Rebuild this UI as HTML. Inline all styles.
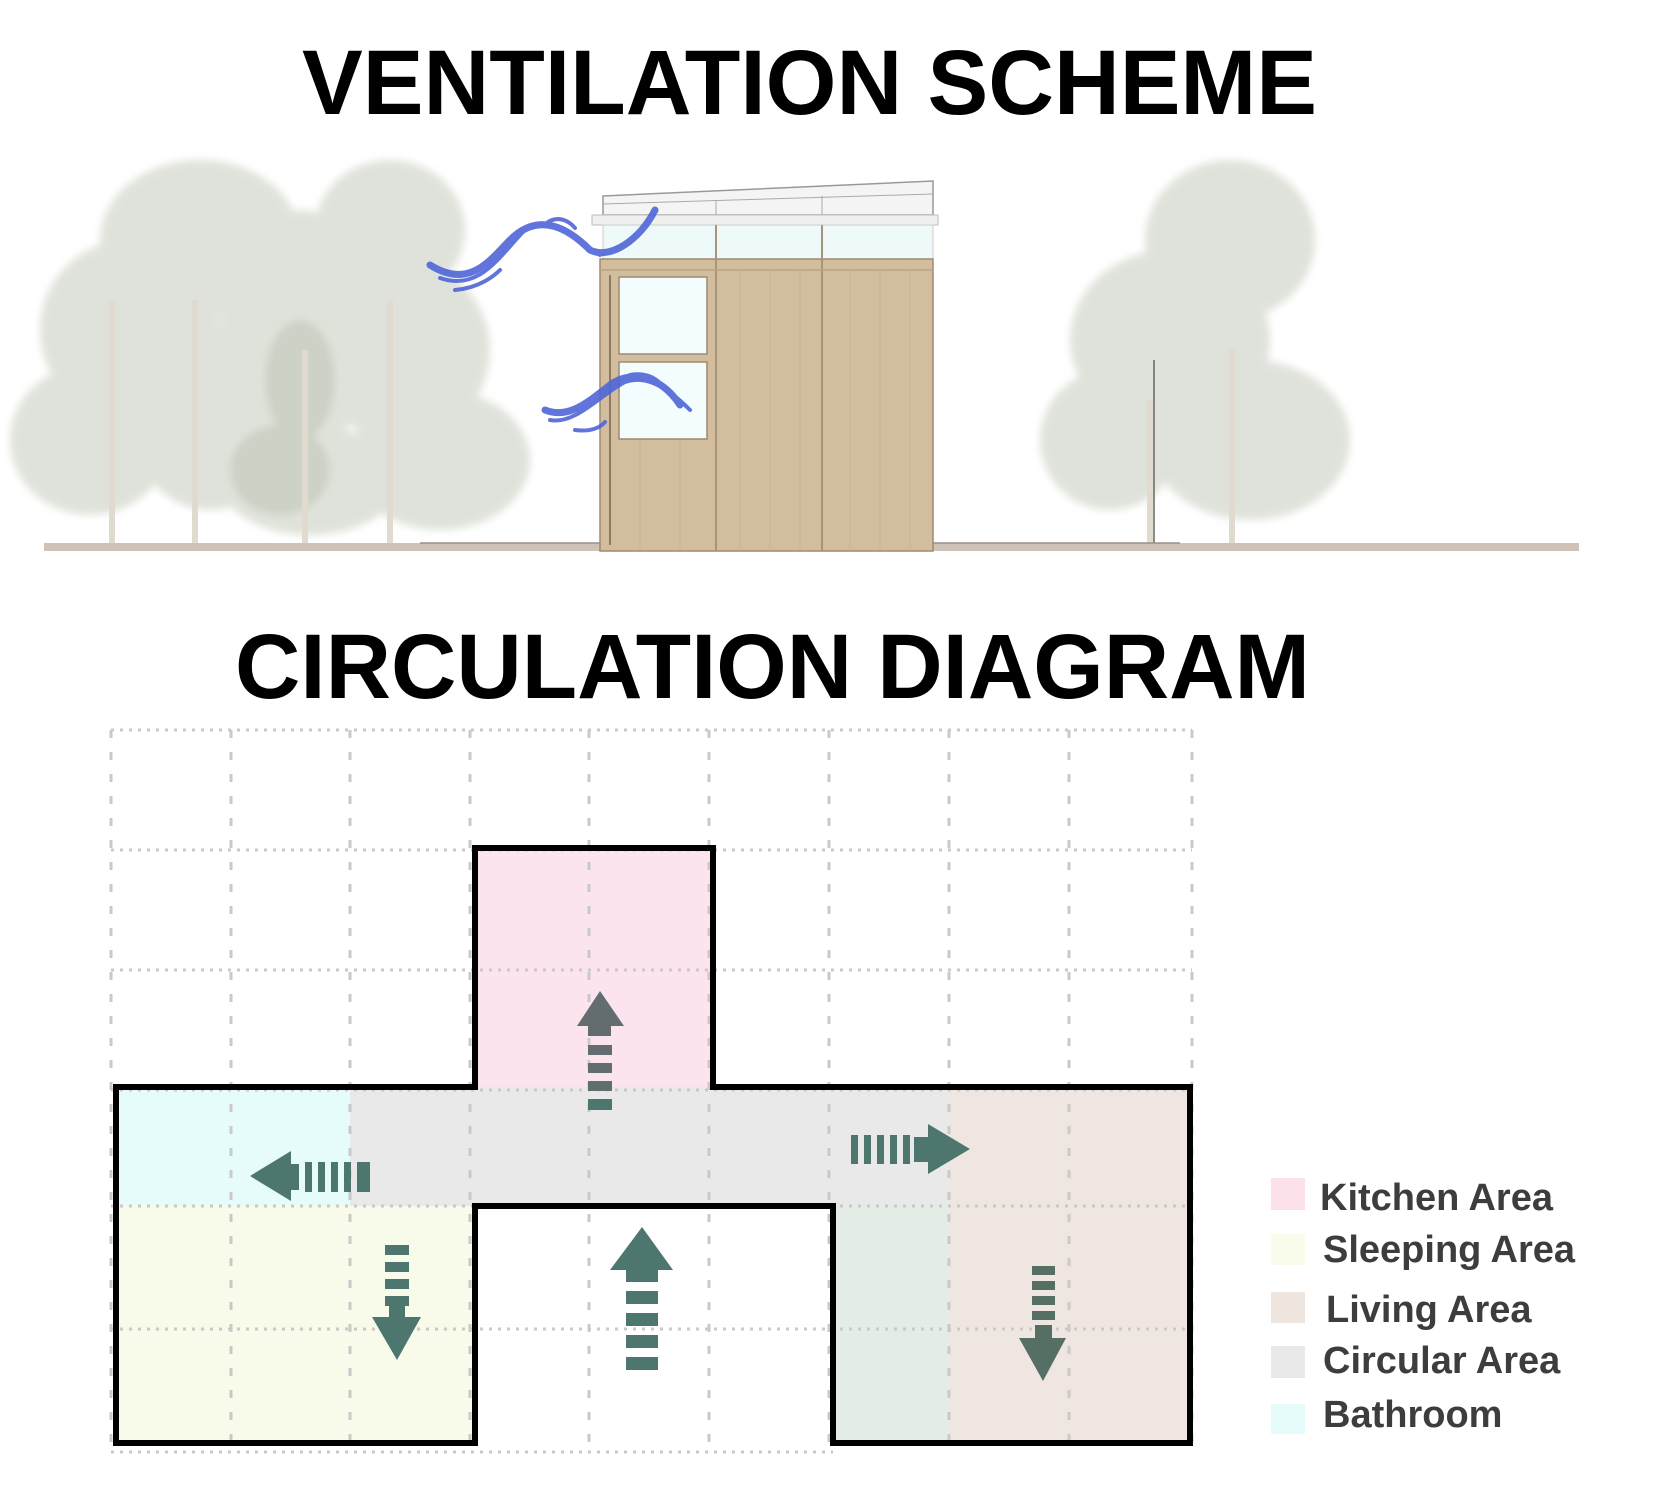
<!DOCTYPE html>
<html><head><meta charset="utf-8"><style>
html,body{margin:0;padding:0;background:#fff;}
svg{display:block;}
</style></head><body>
<svg width="1659" height="1495" viewBox="0 0 1659 1495" xmlns="http://www.w3.org/2000/svg">
<defs>
<filter id="blur" x="-10%" y="-10%" width="120%" height="120%"><feGaussianBlur stdDeviation="4"/></filter>
</defs>
<rect width="1659" height="1495" fill="#fff"/>
<text x="302" y="114" font-family="Liberation Sans, sans-serif" font-weight="bold" font-size="92" textLength="1015" lengthAdjust="spacingAndGlyphs" fill="#000">VENTILATION SCHEME</text>

<!-- trees -->
<g filter="url(#blur)" opacity="0.7">
  <g fill="#d2d7cb">
    <ellipse cx="200" cy="240" rx="100" ry="80"/>
    <ellipse cx="130" cy="330" rx="90" ry="90"/>
    <ellipse cx="90" cy="440" rx="80" ry="75"/>
    <ellipse cx="210" cy="420" rx="80" ry="90"/>
    <ellipse cx="300" cy="330" rx="80" ry="120"/>
    <ellipse cx="390" cy="230" rx="75" ry="70"/>
    <ellipse cx="400" cy="350" rx="90" ry="90"/>
    <ellipse cx="440" cy="460" rx="90" ry="70"/>
    <ellipse cx="310" cy="480" rx="90" ry="55"/>
    <ellipse cx="1230" cy="240" rx="85" ry="80"/>
    <ellipse cx="1170" cy="340" rx="100" ry="90"/>
    <ellipse cx="1110" cy="440" rx="70" ry="70"/>
    <ellipse cx="1250" cy="440" rx="100" ry="80"/>
  </g>
  <g fill="#b8bfae">
    <ellipse cx="300" cy="380" rx="35" ry="60"/>
    <ellipse cx="280" cy="470" rx="50" ry="45"/>
  </g>
</g>
<g stroke="#e0dacf" stroke-width="6">
  <line x1="112" y1="300" x2="112" y2="545"/>
  <line x1="195" y1="300" x2="195" y2="545"/>
  <line x1="305" y1="350" x2="305" y2="545"/>
  <line x1="390" y1="300" x2="390" y2="545"/>
  <line x1="1150" y1="400" x2="1150" y2="545"/>
  <line x1="1232" y1="350" x2="1232" y2="545"/>
</g>
<line x1="1154" y1="360" x2="1154" y2="545" stroke="#666" stroke-width="1.5"/>

<!-- ground -->
<rect x="44" y="543" width="1535" height="8" fill="#cfc2b6"/>
<line x1="420" y1="543" x2="1180" y2="543" stroke="#9a8f85" stroke-width="1.5"/>

<!-- building -->
<polygon points="603,196 933,181 933,215 603,215" fill="#f4f4f4" stroke="#999" stroke-width="1.5"/>
<line x1="603" y1="204" x2="933" y2="194" stroke="#aaa" stroke-width="1"/>
<line x1="716" y1="200" x2="716" y2="215" stroke="#aaa"/>
<line x1="822" y1="196" x2="822" y2="215" stroke="#aaa"/>
<rect x="592" y="215" width="346" height="10" fill="#f0f0ee" stroke="#bbb" stroke-width="1"/>
<rect x="603" y="225" width="330" height="34" fill="#eefaf9" stroke="#ccc" stroke-width="1"/>
<rect x="600" y="259" width="333" height="292" fill="#d2bd9f" stroke="#a08a6c" stroke-width="1.5"/>
<g stroke="#c4ae8f" stroke-width="1" opacity="0.6">
  <line x1="640" y1="440" x2="640" y2="551"/><line x1="680" y1="440" x2="680" y2="551"/>
  <line x1="740" y1="270" x2="740" y2="551"/><line x1="770" y1="270" x2="770" y2="551"/><line x1="800" y1="270" x2="800" y2="551"/>
  <line x1="850" y1="270" x2="850" y2="551"/><line x1="880" y1="270" x2="880" y2="551"/><line x1="910" y1="270" x2="910" y2="551"/>
</g>
<line x1="716" y1="225" x2="716" y2="551" stroke="#a89476" stroke-width="2"/>
<line x1="822" y1="225" x2="822" y2="551" stroke="#a89476" stroke-width="2"/>
<line x1="600" y1="270" x2="933" y2="270" stroke="#b9a384" stroke-width="1.5"/>
<line x1="610" y1="275" x2="610" y2="545" stroke="#8d7a60" stroke-width="2"/>
<rect x="619" y="277" width="88" height="77" fill="#f3fdfd" stroke="#9e8a6e" stroke-width="1.5"/>
<rect x="619" y="362" width="88" height="77" fill="#f3fdfd" stroke="#9e8a6e" stroke-width="1.5"/>

<!-- wind swirls -->
<g fill="none" stroke="#4f66d8" stroke-linecap="round" opacity="0.9">
  <path d="M430,265 C470,290 490,260 510,240 C540,210 570,230 590,250 C610,260 640,240 655,210" stroke-width="7"/>
  <path d="M440,278 C480,292 500,255 525,230 C550,212 575,240 600,255" stroke-width="4"/>
  <path d="M455,290 C480,288 495,275 500,270" stroke-width="4"/>
  <path d="M548,222 C560,215 570,222 575,228" stroke-width="4"/>
  <path d="M545,410 C570,420 590,400 610,385 C630,370 660,375 680,405" stroke-width="7"/>
  <path d="M550,420 C575,425 600,395 625,382 C645,375 665,385 690,410" stroke-width="4"/>
  <path d="M575,430 C590,432 600,428 605,422" stroke-width="4"/>
  <path d="M630,375 C645,372 655,378 660,383" stroke-width="4"/>
</g>

<text x="235" y="698" font-family="Liberation Sans, sans-serif" font-weight="bold" font-size="92" textLength="1075" lengthAdjust="spacingAndGlyphs" fill="#000">CIRCULATION DIAGRAM</text>

<!-- fills -->
<rect x="475" y="848" width="238" height="239" fill="#fce4ee"/>
<rect x="116" y="1087" width="234" height="119" fill="#e6fcfb"/>
<rect x="350" y="1087" width="599" height="119" fill="#e9e9e9"/>
<rect x="949" y="1087" width="241" height="356" fill="#f0e6e1"/>
<rect x="116" y="1206" width="359" height="237" fill="#f8fbe9"/>
<rect x="833" y="1206" width="116" height="237" fill="#e3ede6"/>

<!-- grid -->
<g stroke="#c9c9c9" stroke-width="3" stroke-dasharray="3 6" fill="none">
  <line x1="111" y1="730" x2="1192" y2="730"/>
  <line x1="111" y1="850" x2="1192" y2="850"/>
  <line x1="111" y1="970" x2="1192" y2="970"/>
  <line x1="111" y1="1090" x2="1192" y2="1090"/>
  <line x1="111" y1="1206" x2="1192" y2="1206"/>
  <line x1="111" y1="1329" x2="1192" y2="1329"/>
  <line x1="111" y1="1452" x2="833" y2="1452"/>
  <g stroke-dasharray="8 14">
  <line x1="111" y1="730" x2="111" y2="1452"/>
  <line x1="231" y1="730" x2="231" y2="1452"/>
  <line x1="350" y1="730" x2="350" y2="1452"/>
  <line x1="470" y1="730" x2="470" y2="1452"/>
  <line x1="589" y1="730" x2="589" y2="1452"/>
  <line x1="709" y1="730" x2="709" y2="1452"/>
  <line x1="829" y1="730" x2="829" y2="1452"/>
  <line x1="949" y1="730" x2="949" y2="1452"/>
  <line x1="1069" y1="730" x2="1069" y2="1452"/>
  <line x1="1192" y1="730" x2="1192" y2="1452"/>
  </g>
</g>

<!-- outline -->
<path d="M116,1087 L475,1087 L475,848 L713,848 L713,1087 L1190,1087 L1190,1443 L833,1443 L833,1206 L475,1206 L475,1443 L116,1443 Z" fill="none" stroke="#000" stroke-width="6" stroke-linejoin="miter"/>

<!-- arrows -->
<g fill="#4d776e">
  <polygon points="600,991 624,1026 611,1026 611,1036 588,1036 588,1026 577,1026" fill="#636d70"/>
  <rect x="588" y="1045" width="24" height="10" fill="#636d70"/>
  <rect x="588" y="1063" width="24" height="10" fill="#636d70"/>
  <rect x="588" y="1081" width="24" height="10" fill="#5f6f6c"/>
  <rect x="588" y="1099" width="24" height="11"/>
  <polygon points="250,1176 291,1151 291,1201"/>
  <rect x="291" y="1164" width="8" height="26"/>
  <rect x="305" y="1162" width="7" height="30"/>
  <rect x="318" y="1162" width="7" height="30"/>
  <rect x="331" y="1162" width="7" height="30"/>
  <rect x="344" y="1162" width="7" height="30"/>
  <rect x="357" y="1162" width="13" height="30"/>
  <rect x="851" y="1135" width="7" height="29"/>
  <rect x="864" y="1135" width="7" height="29"/>
  <rect x="877" y="1135" width="7" height="29"/>
  <rect x="890" y="1135" width="7" height="29"/>
  <rect x="903" y="1135" width="7" height="29"/>
  <rect x="914" y="1137" width="14" height="25"/>
  <polygon points="928,1124 970,1149 928,1174"/>
  <rect x="385" y="1245" width="24" height="10"/>
  <rect x="385" y="1262" width="24" height="10"/>
  <rect x="385" y="1279" width="24" height="10"/>
  <rect x="385" y="1296" width="24" height="10"/>
  <polygon points="389,1306 405,1306 405,1317 421,1317 397,1360 372,1317 389,1317"/>
  <polygon points="642,1227 673,1270 658,1270 658,1282 626,1282 626,1270 610,1270"/>
  <rect x="626" y="1291" width="32" height="13"/>
  <rect x="626" y="1313" width="32" height="13"/>
  <rect x="626" y="1335" width="32" height="13"/>
  <rect x="626" y="1357" width="32" height="13"/>
  <g fill="#566f64">
  <rect x="1032" y="1266" width="23" height="9"/>
  <rect x="1032" y="1281" width="23" height="9"/>
  <rect x="1032" y="1296" width="23" height="9"/>
  <rect x="1032" y="1311" width="23" height="9"/>
  <rect x="1035" y="1325" width="17" height="13"/>
  <polygon points="1019,1338 1066,1338 1043,1381"/>
  </g>
</g>

<!-- legend -->
<rect x="1271" y="1178" width="34" height="32" fill="#fce0ea"/>
<rect x="1271" y="1234" width="34" height="31" fill="#f9fcea"/>
<rect x="1271" y="1292" width="34" height="31" fill="#efe5df"/>
<rect x="1271" y="1346" width="34" height="32" fill="#e9e9e9"/>
<rect x="1271" y="1404" width="34" height="30" fill="#e6fcfb"/>
<g font-family="Liberation Sans, sans-serif" font-weight="bold" font-size="38" fill="#3d3d3d">
  <text x="1320" y="1210">Kitchen Area</text>
  <text x="1323" y="1262">Sleeping Area</text>
  <text x="1326" y="1322">Living Area</text>
  <text x="1323" y="1373">Circular Area</text>
  <text x="1323" y="1427">Bathroom</text>
</g>
</svg>
</body></html>
